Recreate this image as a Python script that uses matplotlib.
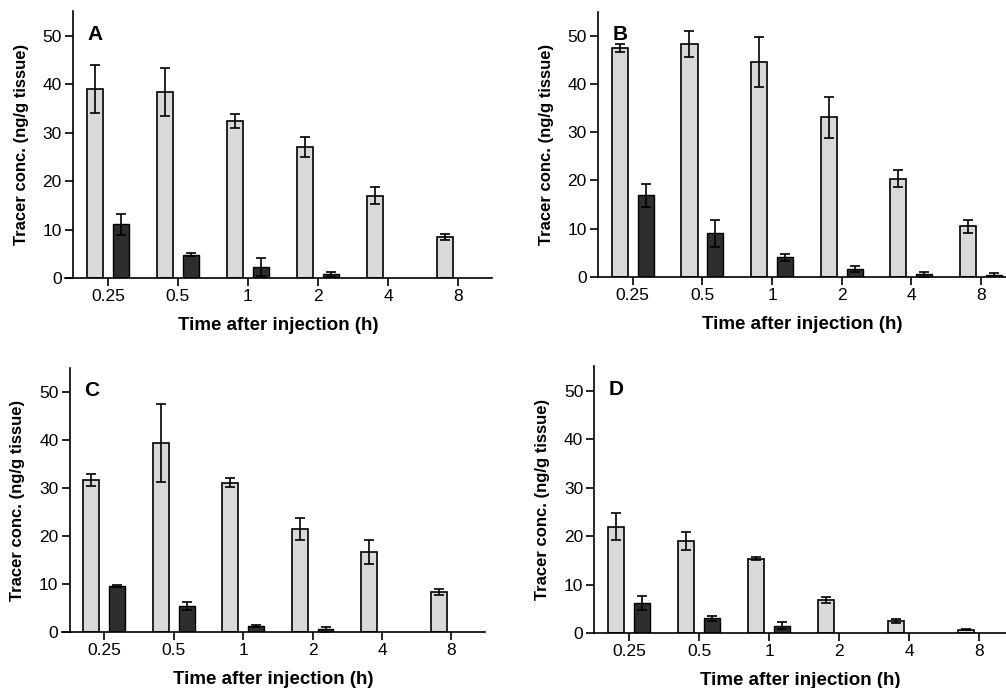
import numpy as np
import matplotlib.pyplot as plt

plt.rcParams['font.family'] = ['Liberation Sans', 'DejaVu Sans']

times = ['0.25', '0.5', '1', '2', '4', '8']

# panel A
a_light = [39.0, 38.4, 32.4, 27.0, 17.0, 8.5]
a_light_err = [5.0, 5.0, 1.4, 2.0, 1.7, 0.6]
a_dark = [11.1, 4.8, 2.3, 0.75, 0, 0]
a_dark_err = [2.2, 0.3, 1.8, 0.5, 0, 0]

# panel B
b_light = [47.4, 48.2, 44.6, 33.1, 20.4, 10.5]
b_light_err = [0.8, 2.7, 5.2, 4.2, 1.8, 1.3]
b_dark = [16.9, 9.1, 4.1, 1.6, 0.6, 0.5]
b_dark_err = [2.4, 2.8, 0.7, 0.6, 0.5, 0.3]

# panel C
c_light = [31.6, 39.4, 31.1, 21.5, 16.7, 8.3]
c_light_err = [1.2, 8.1, 1.0, 2.3, 2.5, 0.6]
c_dark = [9.6, 5.5, 1.3, 0.6, 0, 0]
c_dark_err = [0.2, 0.8, 0.3, 0.5, 0, 0]

# panel D
d_light = [22.0, 19.0, 15.4, 6.8, 2.5, 0.7]
d_light_err = [2.7, 1.8, 0.3, 0.6, 0.45, 0.1]
d_dark = [6.2, 3.1, 1.6, 0, 0, 0]
d_dark_err = [1.4, 0.5, 0.8, 0, 0, 0]

panels = [
    ('A', a_light, a_light_err, a_dark, a_dark_err, [0.0646, 0.5959, 0.4245, 0.3874], (-0.614, 5.486)),
    ('B', b_light, b_light_err, b_dark, b_dark_err, [0.5944, 0.5974, 0.4056, 0.3857], (-0.5, 5.358)),
    ('C', c_light, c_light_err, c_dark, c_dark_err, [0.0613, 0.0810, 0.4210, 0.3846], (-0.614, 5.486)),
    ('D', d_light, d_light_err, d_dark, d_dark_err, [0.5908, 0.0795, 0.4092, 0.3879], (-0.5, 5.38)),
]

fig = plt.figure(figsize=(10.06, 6.88), dpi=100)

x = np.arange(len(times))
w = 0.23
off = 0.186

for letter, lt, lt_err, dk, dk_err, pos, xl in panels:
    ax = fig.add_axes(pos)
    lt = np.array(lt, dtype=float)
    dk = np.array(dk, dtype=float)
    dk = np.where(dk > 0, dk, np.nan)
    dke = np.where(np.isnan(dk), np.nan, dk_err)

    ax.bar(x - off, lt, w, color='#d9d9d9', edgecolor='black', linewidth=1.2, zorder=2)
    ax.errorbar(x - off, lt, yerr=lt_err, fmt='none', ecolor='black',
                elinewidth=1.2, capsize=3.7, capthick=1.2, zorder=3)
    ax.bar(x + off, dk, w, color='#2e2e2e', edgecolor='black', linewidth=1.0, zorder=2)
    ax.errorbar(x + off, dk, yerr=dke, fmt='none', ecolor='black',
                elinewidth=1.2, capsize=3.7, capthick=1.2, zorder=3)

    ax.set_xlim(*xl)
    ax.set_ylim(0, 55)
    ax.spines['top'].set_visible(False)
    ax.spines['right'].set_visible(False)
    ax.spines['left'].set_position(('data', -0.5))
    ax.spines['left'].set_linewidth(1.2)
    ax.spines['bottom'].set_linewidth(1.2)
    ax.set_xticks(x)
    ax.set_xticklabels(times)
    ax.set_yticks([0, 10, 20, 30, 40, 50])
    ax.tick_params(axis='both', labelsize=12.5, width=1.2, length=6, direction='out', pad=2)

    ax.set_ylabel('Tracer conc. (ng/g tissue)', fontsize=12, fontweight='bold', labelpad=10)
    ax.set_xlabel('Time after injection (h)', fontsize=13.5, fontweight='bold', labelpad=9)
    ax.text(-0.29, 52.2, letter, fontsize=15, fontweight='bold', ha='left', va='top')

fig.savefig('out.png', dpi=100)
